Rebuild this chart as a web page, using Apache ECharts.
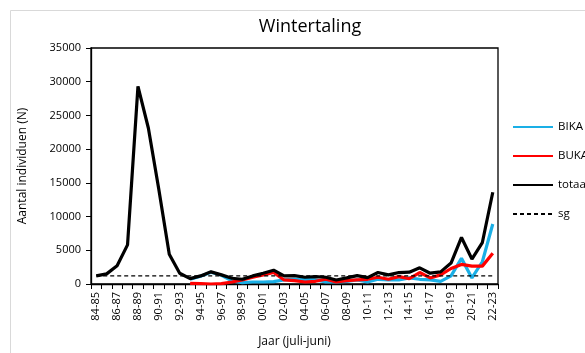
<!DOCTYPE html>
<html><head><meta charset="utf-8">
<script src="https://cdn.jsdelivr.net/npm/echarts@6/dist/echarts.min.js"></script>
<style>html,body{margin:0;padding:0;background:#fff}#c{width:585px;height:353px}</style>
</head><body><div id="c"></div>
<script>
const categories = ['84-85','85-86','86-87','87-88','88-89','89-90','90-91','91-92','92-93','93-94','94-95','95-96','96-97','97-98','98-99','99-00','00-01','01-02','02-03','03-04','04-05','05-06','06-07','07-08','08-09','09-10','10-11','11-12','12-13','13-14','14-15','15-16','16-17','17-18','18-19','19-20','20-21','21-22','22-23'];
const bika = [null,null,null,null,null,null,null,null,null,700,1150,1750,1300,450,200,300,300,350,600,700,700,600,300,300,400,600,300,700,600,600,900,700,600,400,1200,3800,900,3300,8900];
const buka = [null,null,null,null,null,null,null,null,null,100,50,0,50,300,600,1000,1350,1700,600,500,300,400,700,300,500,600,700,1000,700,1100,800,1700,900,1350,2300,2900,2650,2650,4550];
const totaal = [1200,1500,2700,5800,29300,23100,14000,4400,1600,800,1200,1800,1350,850,700,1200,1600,2050,1200,1250,1000,1100,1000,600,900,1250,950,1700,1350,1700,1750,2400,1600,1800,3100,6900,3700,6150,13600];
const sgValue = 1200;
const sg = categories.map(() => sgValue);
const yTicks = {min: 0, max: 35000, interval: 5000};

const chart = echarts.init(document.getElementById('c'), null, {renderer: 'canvas'});
const font = 'Open Sans, Noto Sans, sans-serif';
chart.setOption({
  animation: false,
  backgroundColor: '#fff',
  graphic: [{type: 'rect', shape: {x: 10.5, y: 10.5, width: 640, height: 400}, style: {fill: 'none', stroke: '#d9d9d9', lineWidth: 1}, silent: true, z: -1}],
  title: {text: 'Wintertaling', left: 305, top: 13, textAlign: 'center',
    textStyle: {fontFamily: font, fontSize: 18, fontWeight: 'normal', color: '#000'}},
  grid: {left: 91, top: 48, right: 87, bottom: 62, show: true, borderColor: '#000', borderWidth: 1.3, backgroundColor: 'transparent'},
  legend: {orient: 'vertical', left: 512, top: 121, padding: 0, itemWidth: 40, itemHeight: 14, itemGap: 17,
    itemStyle: {color: 'transparent', borderWidth: 0, opacity: 0},
    textStyle: {fontFamily: font, fontSize: 11.5, color: '#000'},
    data: ['BIKA','BUKA','totaal','sg']},
  xAxis: {type: 'category', data: categories, boundaryGap: true,
    name: 'Jaar (juli-juni)', nameLocation: 'middle', nameGap: 52,
    nameTextStyle: {fontFamily: font, fontSize: 12, color: '#000'},
    axisLine: {lineStyle: {color: '#000', width: 1.3}},
    axisTick: {show: true, interval: 0, length: 5, lineStyle: {color: '#000'}},
    axisLabel: {interval: 1, rotate: 90, fontFamily: font, fontSize: 11, color: '#000', margin: 8},
    splitLine: {show: false}},
  yAxis: {type: 'value', min: yTicks.min, max: yTicks.max, interval: yTicks.interval,
    name: 'Aantal individuen (N)', nameLocation: 'middle', nameGap: 62, nameRotate: 90,
    nameTextStyle: {fontFamily: font, fontSize: 12, color: '#000'},
    axisLine: {show: true, lineStyle: {color: '#000', width: 1.3}},
    axisTick: {show: true, length: 5, inside: false, lineStyle: {color: '#000'}},
    axisLabel: {fontFamily: font, fontSize: 11, color: '#000', margin: 10, formatter: v => String(v)},
    splitLine: {show: false}},
  series: [
    {name: 'BIKA', type: 'line', data: bika, symbol: 'none', color: '#1AAFE6', lineStyle: {width: 3.2, color: '#1AAFE6'}, z: 2},
    {name: 'BUKA', type: 'line', data: buka, symbol: 'none', color: '#FF0000', lineStyle: {width: 3.2, color: '#FF0000'}, z: 3},
    {name: 'totaal', type: 'line', data: totaal, symbol: 'none', color: '#000', lineStyle: {width: 3.2, color: '#000'}, z: 4},
    {name: 'sg', type: 'line', data: sg, symbol: 'none', color: '#000', lineStyle: {width: 1.2, type: [4, 3], color: '#000'}, z: 5}
  ]
});
</script></body></html>
